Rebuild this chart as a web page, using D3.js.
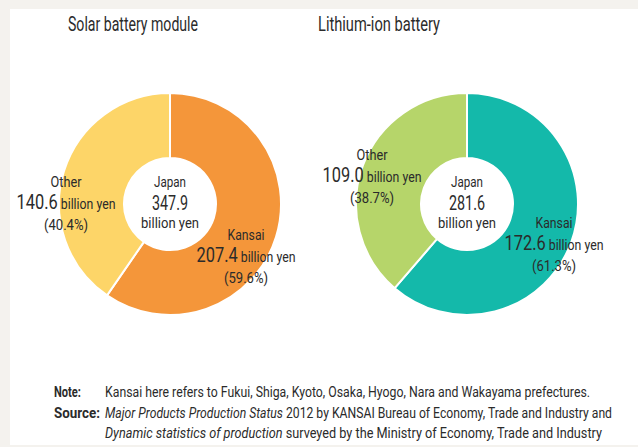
<!DOCTYPE html>
<html>
<head>
<meta charset="utf-8">
<script src="https://cdn.jsdelivr.net/npm/d3@7"></script>
<style>
  body { margin: 0; background: #f4f2ee; }
  svg { display: block; }
  text { font-family: "Roboto", "Liberation Sans", sans-serif; fill: #2b2b2b; }
</style>
</head>
<body>
<div id="chart"></div>
<script>
// Data
const chartTitles = ["Solar battery module", "Lithium-ion battery"];
const regions = ["Kansai", "Other"];
const solarValues = [207.4, 140.6];
const lithiumValues = [172.6, 109.0];
const solarShares = ["59.6%", "40.4%"];
const lithiumShares = ["61.3%", "38.7%"];
const totals = [347.9, 281.6];

const noteText = "Kansai here refers to Fukui, Shiga, Kyoto, Osaka, Hyogo, Nara and Wakayama prefectures.";

// Layout
const width = 638, height = 447;
const outerR = 111, innerR = 46;

const charts = [
  { title: chartTitles[0], values: solarValues, shares: solarShares, total: totals[0],
    colors: ["#f4963a", "#fdd568"], cx: 170, cy: 204, titleX: 68, titleW: 130,
    labelPos: [{dx: 76, dy: 36}, {dx: -104, dy: -17}] },
  { title: chartTitles[1], values: lithiumValues, shares: lithiumShares, total: totals[1],
    colors: ["#14b9aa", "#b6d56a"], cx: 467, cy: 204, titleX: 318, titleW: 122,
    labelPos: [{dx: 87, dy: 24}, {dx: -95, dy: -44}] }
];

// squeeze a text to a given width (the source uses a condensed face)
function fit(sel, w) {
  return sel.attr("textLength", w).attr("lengthAdjust", "spacingAndGlyphs");
}

const svg = d3.select("#chart")
  .append("svg")
    .attr("width", width)
    .attr("height", height);

// White panel
svg.append("rect")
  .attr("x", 10).attr("y", 9)
  .attr("width", width - 10).attr("height", 436)
  .attr("fill", "#ffffff");

const pie = d3.pie().sort(null).value(d => d);
const arc = d3.arc().innerRadius(innerR).outerRadius(outerR);

charts.forEach(c => {
  // Title
  fit(svg.append("text")
    .attr("x", c.titleX)
    .attr("y", 31)
    .style("font-size", "21px")
    .text(c.title), c.titleW);

  const g = svg.append("g")
    .attr("transform", `translate(${c.cx},${c.cy})`);

  g.selectAll("path")
    .data(pie(c.values))
    .enter().append("path")
      .attr("d", arc)
      .attr("fill", (d, i) => c.colors[i])
      .attr("stroke", "#fff")
      .attr("stroke-width", 2);

  // Centre label
  fit(g.append("text").attr("text-anchor", "middle").attr("y", -17)
    .style("font-size", "15px").text("Japan"), 32);
  fit(g.append("text").attr("text-anchor", "middle").attr("y", 6)
    .style("font-size", "21px").text(c.total.toFixed(1)), 36);
  fit(g.append("text").attr("text-anchor", "middle").attr("y", 24)
    .style("font-size", "15px").text("billion yen"), 58);

  // Slice labels
  regions.forEach((r, i) => {
    const p = c.labelPos[i];
    fit(g.append("text").attr("text-anchor", "middle")
      .attr("x", p.dx).attr("y", p.dy)
      .style("font-size", "15px").text(r), r === "Kansai" ? 37 : 31);
    const v = fit(g.append("text").attr("text-anchor", "middle")
      .attr("x", p.dx).attr("y", p.dy + 22), 99);
    v.append("tspan").style("font-size", "20px").text(c.values[i].toFixed(1));
    v.append("tspan").style("font-size", "15px").text(" billion yen");
    fit(g.append("text").attr("text-anchor", "middle")
      .attr("x", p.dx).attr("y", p.dy + 43)
      .style("font-size", "15px").text(`(${c.shares[i]})`), 44);
  });
});

// Footer notes
const foot = svg.append("g").style("font-size", "14px");

fit(foot.append("text").attr("x", 54).attr("y", 397)
  .style("font-weight", "bold").text("Note:"), 27);
fit(foot.append("text").attr("x", 105).attr("y", 397)
  .text(noteText), 485);

fit(foot.append("text").attr("x", 54).attr("y", 418)
  .style("font-weight", "bold").text("Source:"), 46);
const s1 = fit(foot.append("text").attr("x", 105).attr("y", 418), 507);
s1.append("tspan").style("font-style", "italic").text("Major Products Production Status");
s1.append("tspan").text(" 2012 by KANSAI Bureau of Economy, Trade and Industry and");

const s2 = fit(foot.append("text").attr("x", 105).attr("y", 438), 497);
s2.append("tspan").style("font-style", "italic").text("Dynamic statistics of production");
s2.append("tspan").text(" surveyed by the Ministry of Economy, Trade and Industry");
</script>
</body>
</html>
